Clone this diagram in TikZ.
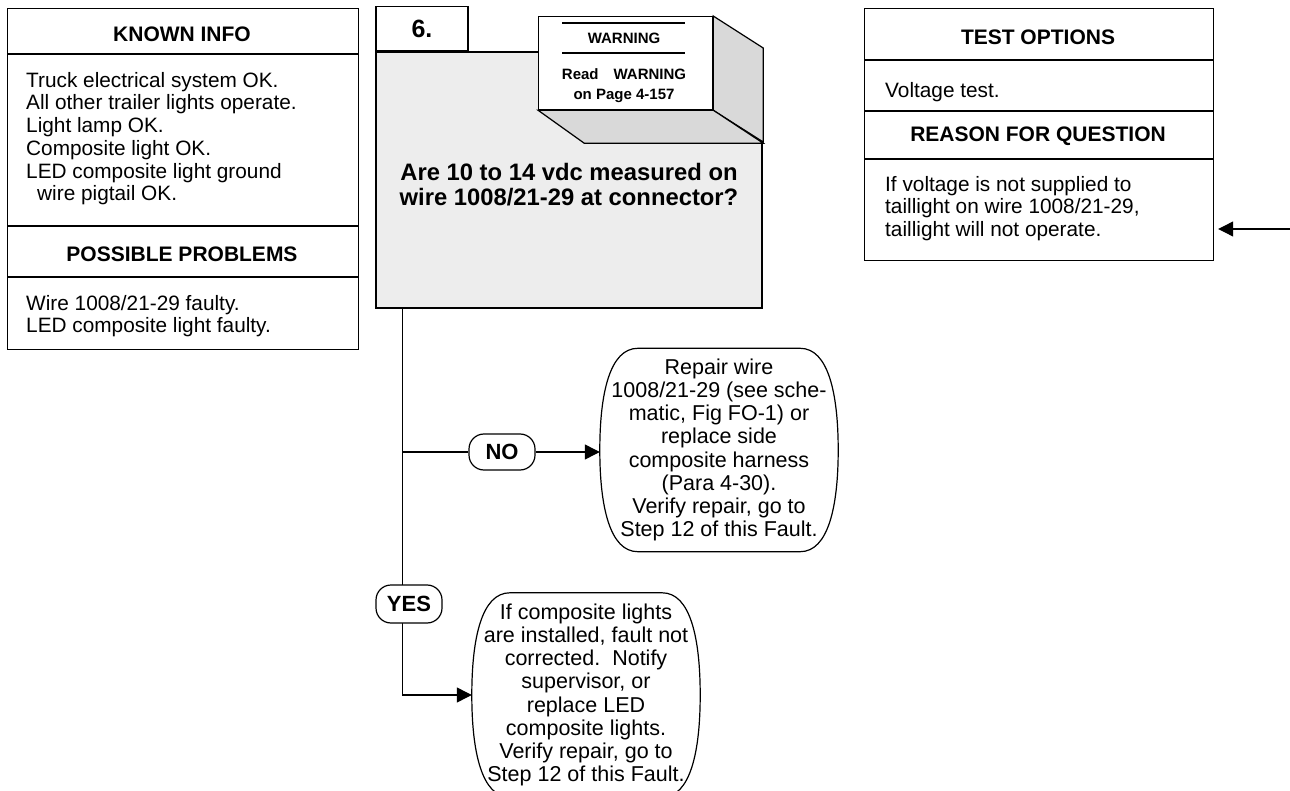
\documentclass[tikz,border=0pt]{standalone}
\usepackage{fontspec}
\setmainfont{Liberation Sans}
\usetikzlibrary{arrows.meta,positioning,calc}

\definecolor{stepgray}{gray}{0.93}
\definecolor{sidegray}{gray}{0.85}

\tikzset{
  panel/.style={draw, line width=1.2pt, inner sep=0pt},
  head/.style={font=\bfseries\fontsize{21}{24}\selectfont, inner sep=0pt},
  body/.style={font=\fontsize{20.8}{22.7}\selectfont, align=left, inner sep=0pt},
  endtxt/.style={font=\fontsize{21.5}{23.2}\selectfont, align=center, inner sep=0pt},
  pill/.style={draw, fill=white, rounded corners=15pt, line width=1.2pt,
    minimum width=66pt, minimum height=36pt, inner sep=0pt,
    font=\bfseries\fontsize{22}{24}\selectfont},
  wire/.style={line width=1.2pt},
  flow/.style={wire, -{Triangle[length=15pt,width=15pt]}},
}

% outline of a closing box round a named node
\newcommand\capoutline[1]{%
  \draw[wire] ([xshift=38pt]#1.north west) -- ([xshift=-38pt]#1.north east)
    .. controls ([xshift=-10pt]#1.north east) and ([yshift=-45pt]#1.north east) .. (#1.east)
    .. controls ([yshift=45pt]#1.south east) and ([xshift=-10pt]#1.south east) .. ([xshift=-38pt]#1.south east)
    -- ([xshift=38pt]#1.south west)
    .. controls ([xshift=10pt]#1.south west) and ([yshift=45pt]#1.south west) .. (#1.west)
    .. controls ([yshift=-45pt]#1.north west) and ([xshift=10pt]#1.north west) .. cycle;}

\begin{document}
\begin{tikzpicture}[x=1pt, y=-1pt]
\useasboundingbox (0,0) rectangle (1290,791);

% Known info / possible problems
\node[panel, minimum width=351pt, minimum height=341pt, anchor=north west] (infobox) at (7,8) {};
\draw[wire] (7,54) -- (358,54);
\draw[wire] (7,226) -- (358,226);
\draw[wire] (7,277) -- (358,277);
\node[head] (knownhead) at (182,34) {KNOWN INFO};
\node[body, anchor=north west] (knowntxt) at (26,72) {Truck electrical system OK.\\
  All other trailer lights operate.\\
  Light lamp OK.\\
  Composite light OK.\\
  LED composite light ground\\
  \hspace*{11pt}wire pigtail OK.};
\node[head] (probhead) at (182,254) {POSSIBLE PROBLEMS};
\node[body, anchor=north west] (probtxt) at (26,295) {Wire 1008/21-29 faulty.\\
  LED composite light faulty.};

% Step 6
\node[panel, fill=stepgray, minimum width=386pt, minimum height=256pt] (step) at (569,180) {};
\node[panel, fill=white, minimum width=92pt, minimum height=44pt, anchor=south west,
  font=\bfseries\fontsize{25}{28}\selectfont] (tab) at (step.north west) {6.};

% Warning block
\node[panel, fill=white, minimum width=174pt, minimum height=93pt, anchor=north west] (warn) at (538,16) {};
\draw[wire, fill=sidegray] (warn.north east) -- ++(50,32) -- ++(0,94) -- (warn.south east) -- cycle;
\draw[wire, fill=sidegray] (warn.south west) -- (warn.south east) -- ++(50,33) -- ++(-179,0) -- cycle;
\node[panel, fill=white, minimum width=174pt, minimum height=93pt, anchor=north west] (warnface) at (538,16) {};
\draw[wire] (562,23) -- (685,23);
\draw[wire] (562,53) -- (685,53);
\node[font=\bfseries\fontsize{15}{18}\selectfont, inner sep=0pt] (warnhead) at (624,38) {WARNING};
\node[font=\bfseries\fontsize{15}{20}\selectfont, align=center, inner sep=0pt, anchor=north] (warntxt) at (624,68)
  {Read\quad WARNING\\on Page 4-157};

\node[font=\bfseries\fontsize{23.8}{25}\selectfont, align=center, inner sep=0pt, anchor=north] (question) at (569,163)
  {Are 10 to 14 vdc measured on\\wire 1008/21-29 at connector?};

% Test options / reason
\node[panel, minimum width=349pt, minimum height=252pt, anchor=north west] (testbox) at (864,8) {};
\draw[wire] (864,60) -- (1213,60);
\draw[wire] (864,111) -- (1213,111);
\draw[wire] (864,159) -- (1213,159);
\node[head] (testhead) at (1038,37) {TEST OPTIONS};
\node[body, anchor=north west] (testtxt) at (885,82) {Voltage test.};
\node[head] (reasonhead) at (1038,136) {REASON FOR QUESTION};
\node[body, anchor=north west] (reasontxt) at (885,176) {If voltage is not supplied to\\
  taillight on wire 1008/21-29,\\
  taillight will not operate.};
\coordinate (fromprev) at (1290,229);
\draw[flow, shorten >=4pt] (fromprev) -- (fromprev -| testbox.east);

% Closing boxes
\node[endtxt, minimum width=238pt, minimum height=203pt] (fixno) at (719,450)
  {Repair wire\\1008/21-29 (see sche-\\matic, Fig FO-1) or\\replace side\\composite harness\\(Para 4-30).\\Verify repair, go to\\Step 12 of this Fault.};
\capoutline{fixno}
\node[endtxt, minimum width=228pt, minimum height=204pt] (fixyes) at (586,695)
  {If composite lights\\are installed, fault not\\corrected.\ \ Notify\\supervisor, or\\replace LED\\composite lights.\\Verify repair, go to\\Step 12 of this Fault.};
\capoutline{fixyes}

% Branches
\coordinate (trunk) at ([xshift=27pt]step.south west);
\draw[flow] (trunk) |- (fixyes.west);
\node[pill] (nolabel) at (502,452) {NO};
\draw[wire] (trunk |- nolabel) -- (nolabel);
\draw[flow] (nolabel) -- (fixno.west |- nolabel);
\node[pill, minimum height=38pt] (yeslabel) at (409,604) {YES};

\end{tikzpicture}
\end{document}
